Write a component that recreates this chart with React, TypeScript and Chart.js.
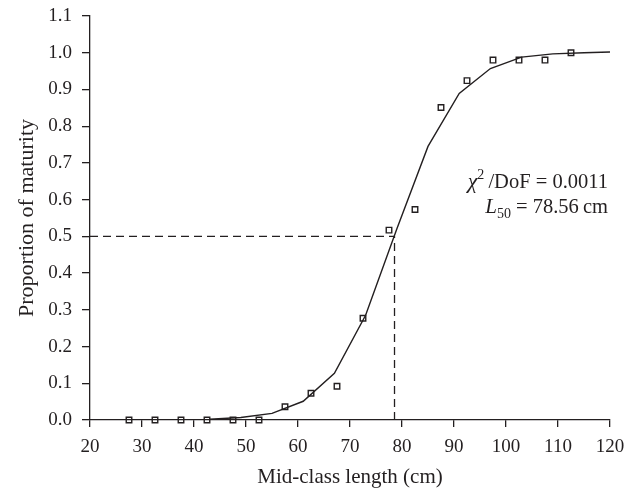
import React, { useEffect, useRef } from "react";
import { Chart, registerables } from "chart.js";

Chart.register(...registerables);

// Observed proportions of maturity per 5-cm length class (mid-points)
const classMid = [27.5, 32.5, 37.5, 42.5, 47.5, 52.5, 57.5, 62.5, 67.5, 72.5, 77.5, 82.5, 87.5, 92.5, 97.5, 102.5, 107.5, 112.5];
const observed = [0, 0, 0, 0, 0, 0, 0.036, 0.073, 0.092, 0.277, 0.517, 0.573, 0.851, 0.924, 0.98, 0.98, 0.98, 1.0];

// Fitted logistic curve (vertices)
const fitLength = [43, 49, 55, 61, 67, 73, 79, 85, 91, 97, 103, 109, 115, 120];
const fitProp = [0.002, 0.007, 0.018, 0.051, 0.127, 0.285, 0.52, 0.745, 0.889, 0.957, 0.988, 0.997, 1.0, 1.002];

const xTicks = [20, 30, 40, 50, 60, 70, 80, 90, 100, 110, 120];
const yTicks = [0, 0.1, 0.2, 0.3, 0.4, 0.5, 0.6, 0.7, 0.8, 0.9, 1.0, 1.1];

const L50 = 78.56;
const halfLevel = 0.5;
const chiDoF = "0.0011";

const FONT = "'Liberation Serif', 'DejaVu Serif', serif";
const INK = "#231f20";

const annotationPlugin = {
  id: "fitAnnotation",
  afterDraw(chart: any) {
    const ctx = chart.ctx as CanvasRenderingContext2D;
    const right = chart.chartArea.right - 2;
    const bottom = chart.chartArea.bottom;
    ctx.save();
    ctx.fillStyle = INK;
    ctx.textBaseline = "alphabetic";
    ctx.textAlign = "left";

    // Line 1: χ²/DoF = 0.0011
    const y1 = bottom - 232;
    const p1 = [
      { t: "\u03C7", f: `italic 22px ${FONT}`, dy: 0 },
      { t: "2", f: `14px ${FONT}`, dy: -9 },
      { t: "\u2009/DoF = " + chiDoF, f: `20.5px ${FONT}`, dy: 0 },
    ];
    let w = 0;
    for (const p of p1) { ctx.font = p.f; w += ctx.measureText(p.t).width; }
    let x = right - w;
    for (const p of p1) { ctx.font = p.f; ctx.fillText(p.t, x, y1 + p.dy); x += ctx.measureText(p.t).width; }

    // Line 2: L50 = 78.56 cm
    const y2 = bottom - 207;
    const p2 = [
      { t: "L", f: `italic 21px ${FONT}`, dy: 0 },
      { t: "50", f: `14px ${FONT}`, dy: 5 },
      { t: " = " + L50.toFixed(2) + "\u2009cm", f: `20.5px ${FONT}`, dy: 0 },
    ];
    w = 0;
    for (const p of p2) { ctx.font = p.f; w += ctx.measureText(p.t).width; }
    x = right - w;
    for (const p of p2) { ctx.font = p.f; ctx.fillText(p.t, x, y2 + p.dy); x += ctx.measureText(p.t).width; }
    ctx.restore();
  },
};

export default function App() {
  const ref = useRef<HTMLCanvasElement | null>(null);

  useEffect(() => {
    if (!ref.current) return;
    const chart = new Chart(ref.current, {
      type: "scatter",
      data: {
        datasets: [
          {
            label: "Observed",
            data: classMid.map((x, i) => ({ x, y: observed[i] })),
            showLine: false,
            pointStyle: "rect",
            pointRadius: 3.9,
            pointBorderWidth: 1.4,
            pointBorderColor: INK,
            pointBackgroundColor: "rgba(255,255,255,0)",
            clip: false as any,
          },
          {
            label: "Fitted",
            data: fitLength.map((x, i) => ({ x, y: fitProp[i] })),
            showLine: true,
            borderColor: INK,
            borderWidth: 1.4,
            pointRadius: 0,
            tension: 0,
            clip: false as any,
          },
          {
            label: "L50 horizontal",
            data: [{ x: 20, y: halfLevel }, { x: L50, y: halfLevel }],
            showLine: true,
            borderColor: INK,
            borderWidth: 1.3,
            borderDash: [8, 5],
            pointRadius: 0,
          },
          {
            label: "L50 vertical",
            data: [{ x: L50, y: 0 }, { x: L50, y: halfLevel }],
            showLine: true,
            borderColor: INK,
            borderWidth: 1.3,
            borderDash: [8, 5],
            pointRadius: 0,
          },
        ],
      },
      options: {
        animation: false,
        responsive: false,
        devicePixelRatio: 1,
        layout: { padding: { top: 16, right: 28, left: 0, bottom: 0 } },
        plugins: { legend: { display: false }, tooltip: { enabled: false } },
        scales: {
          x: {
            type: "linear",
            min: 20,
            max: 120,
            afterBuildTicks: (s: any) => { s.ticks = xTicks.map((v) => ({ value: v })); },
            afterFit: (s: any) => { s.height = 70; s.paddingLeft = 0; s.paddingRight = 0; },
            ticks: {
              font: { family: FONT, size: 19 },
              color: INK,
              padding: 9,
              maxRotation: 0,
              autoSkip: false,
              callback: (v: any) => String(v),
            },
            grid: { display: true, drawOnChartArea: false, drawTicks: true, tickLength: 7, color: INK, lineWidth: 1.3 },
            border: { display: true, color: INK, width: 1.3 },
            title: {
              display: true,
              text: "Mid-class length (cm)",
              font: { family: FONT, size: 21 },
              color: INK,
              padding: { top: 0, bottom: 0 },
            },
          },
          y: {
            type: "linear",
            min: 0,
            max: 1.1,
            afterBuildTicks: (s: any) => { s.ticks = yTicks.map((v) => ({ value: v })); },
            afterFit: (s: any) => { s.width = 90; s.paddingTop = 0; s.paddingBottom = 0; },
            ticks: {
              font: { family: FONT, size: 19 },
              color: INK,
              padding: 10,
              autoSkip: false,
              callback: (v: any) => Number(v).toFixed(1),
            },
            grid: { display: true, drawOnChartArea: false, drawTicks: true, tickLength: 8, color: INK, lineWidth: 1.3 },
            border: { display: true, color: INK, width: 1.3 },
            title: {
              display: true,
              text: "Proportion of maturity",
              font: { family: FONT, size: 22 },
              color: INK,
              padding: { top: 14, bottom: 0 },
            },
          },
        },
      },
      plugins: [annotationPlugin],
    } as any);
    return () => chart.destroy();
  }, []);

  return (
    <div style={{ position: "fixed", left: 0, top: 0, width: 638, height: 490, background: "#fff" }}>
      <canvas ref={ref} width={638} height={490} style={{ display: "block" }} />
    </div>
  );
}
